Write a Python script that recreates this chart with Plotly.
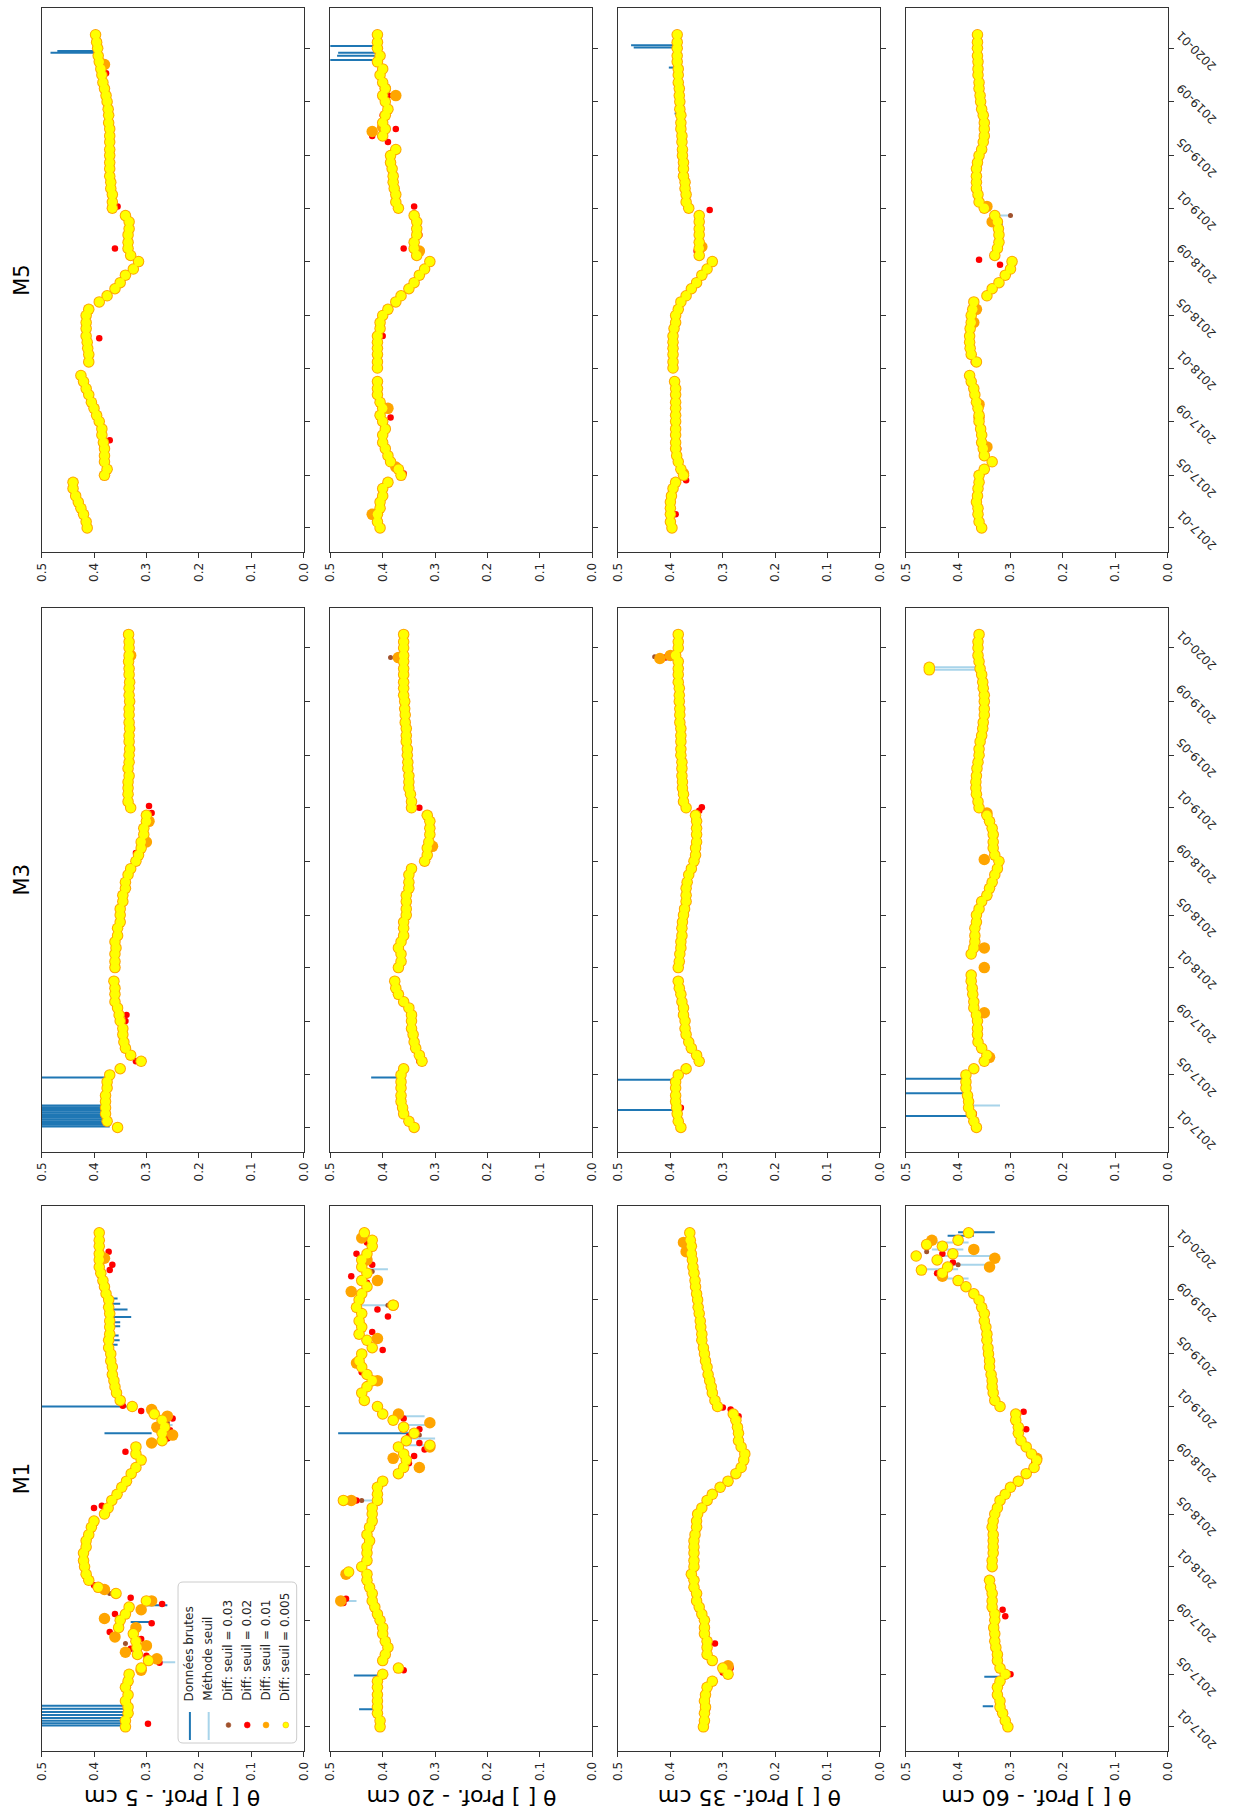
import plotly.graph_objects as go

W, H = 1235, 1814

# ---------------------------------------------------------------- labels / ticks
SITES = ["M5", "M3", "M1"]                 # rows, top to bottom
DEPTH_LABELS = ["θ [ ] Prof. - 5 cm", "θ [ ] Prof. - 20 cm",
                "θ [ ] Prof.- 35 cm", "θ [ ] Prof. - 60 cm"]
THETA_TICKS = [0.0, 0.1, 0.2, 0.3, 0.4, 0.5]
THETA_TICK_TEXT = ["0.0", "0.1", "0.2", "0.3", "0.4", "0.5"]
DATE_TICKS = ["2017-01-01", "2017-05-01", "2017-09-01", "2018-01-01", "2018-05-01",
              "2018-09-01", "2019-01-01", "2019-05-01", "2019-09-01", "2020-01-01"]
DATE_TICK_TEXT = ["2017-01", "2017-05", "2017-09", "2018-01", "2018-05",
                  "2018-09", "2019-01", "2019-05", "2019-09", "2020-01"]
LEGEND_LABELS = ["Données brutes", "Méthode seuil", "Diff: seuil = 0.03",
                 "Diff: seuil = 0.02", "Diff: seuil = 0.01", "Diff: seuil = 0.005"]

# sampling dates (1st and 15th of each month, 2017-01-01 .. 2020-02-01)
DATES = [f"{y}-{m:02d}-{d:02d}" for y in (2017, 2018, 2019, 2020)
         for m in range(1, 13) for d in (1, 15)][:75]

# ---------------------------------------------------------------- series (theta)
M1_05 = [0.34, 0.34, 0.335, 0.335, 0.34, 0.335, 0.34, 0.335,
         0.333, 0.31, 0.296, 0.317, 0.318, 0.32, 0.325, 0.353,
         0.35, 0.34, 0.333, 0.30, 0.358, 0.392, 0.41, 0.415,
         0.418, 0.42, 0.42, 0.415, 0.415, 0.41, 0.405, 0.40,
         0.38, 0.373, 0.366, 0.356, 0.347, 0.338, 0.329, 0.32,
         0.31, 0.32, 0.32, 0.27, 0.27, 0.265, 0.27, 0.285,
         0.327, 0.35, 0.357, 0.36, 0.362, 0.365, 0.365, 0.368,
         0.368, 0.372, 0.372, 0.37, 0.37, 0.37, 0.37, 0.372,
         0.372, 0.377, 0.38, 0.383, 0.387, 0.39, 0.39, 0.39,
         0.39, 0.39, 0.39]
M1_20 = [0.405, 0.405, 0.41, 0.41, 0.41, 0.41, 0.41, 0.41,
         0.40, 0.37, 0.40, 0.395, 0.39, 0.395, 0.40, 0.40,
         0.405, 0.41, 0.415, 0.42, 0.42, 0.425, 0.43, 0.43,
         0.44, 0.43, 0.43, 0.43, 0.425, 0.43, 0.425, 0.42,
         0.42, 0.42, 0.41, 0.41, 0.41, 0.40, 0.37, 0.36,
         0.355, 0.36, 0.37, 0.355, 0.34, 0.36, 0.38, 0.40,
         0.41, 0.435, 0.44, 0.43, 0.42, 0.43, 0.44, 0.445,
         0.44, 0.42, 0.43, 0.445, 0.44, 0.445, 0.44, 0.45,
         0.445, 0.44, 0.43, 0.44, 0.43, 0.44, 0.44, 0.43,
         0.42, 0.42, 0.435]
M1_35 = [0.337, 0.335, 0.335, 0.333, 0.335, 0.333, 0.33, 0.32,
         0.29, 0.30, 0.32, 0.33, 0.33, 0.33, 0.335, 0.335,
         0.335, 0.34, 0.345, 0.35, 0.35, 0.355, 0.355, 0.36,
         0.355, 0.355, 0.355, 0.355, 0.355, 0.353, 0.35, 0.35,
         0.348, 0.34, 0.33, 0.32, 0.305, 0.29, 0.275, 0.265,
         0.26, 0.258, 0.265, 0.27, 0.27, 0.272, 0.275, 0.28,
         0.31, 0.315, 0.32, 0.322, 0.325, 0.328, 0.33, 0.333,
         0.335, 0.337, 0.34, 0.34, 0.342, 0.343, 0.345, 0.347,
         0.348, 0.35, 0.352, 0.353, 0.355, 0.357, 0.358, 0.36,
         0.36, 0.362, 0.363]
M1_60 = [0.305, 0.31, 0.315, 0.32, 0.32, 0.325, 0.325, 0.32,
         0.31, 0.32, 0.325, 0.325, 0.328, 0.33, 0.33, 0.332,
         0.33, 0.33, 0.335, 0.335, 0.335, 0.338, 0.34, None,
         0.335, 0.335, 0.333, 0.333, 0.333, 0.333, 0.335, 0.333,
         0.33, 0.325, 0.32, 0.31, 0.30, 0.285, 0.27, 0.255,
         0.25, 0.26, 0.27, 0.28, 0.285, 0.285, 0.29, 0.29,
         0.32, 0.33, 0.333, 0.335, 0.335, 0.337, 0.34, 0.34,
         0.342, 0.343, 0.345, 0.345, 0.347, 0.35, 0.35, 0.355,
         0.36, 0.37, 0.385, 0.40, 0.43, 0.42, 0.44, 0.41,
         0.43, 0.40, 0.38]
M3_05 = [0.355, 0.375, 0.378, 0.378, 0.378, 0.378, 0.375, 0.375,
         0.37, 0.35, 0.31, 0.33, 0.34, 0.343, 0.345, 0.345,
         0.35, 0.352, 0.355, 0.36, 0.36, 0.36, 0.362, None,
         0.36, 0.36, 0.36, 0.358, 0.36, 0.355, 0.355, 0.35,
         0.35, 0.35, 0.345, 0.345, 0.34, 0.34, 0.335, 0.33,
         0.32, 0.315, 0.31, 0.31, 0.305, 0.305, 0.30, 0.30,
         0.33, 0.335, 0.335, 0.335, 0.335, 0.333, 0.335, 0.333,
         0.333, 0.332, 0.333, 0.333, 0.332, 0.333, 0.333, 0.333,
         0.332, 0.333, 0.333, 0.332, 0.333, 0.333, 0.334, 0.333,
         0.333, 0.333, 0.334]
M3_20 = [0.34, 0.35, 0.36, 0.362, 0.365, 0.365, 0.365, 0.365,
         0.365, 0.36, 0.325, 0.33, 0.337, 0.34, 0.342, 0.345,
         0.345, 0.345, 0.35, 0.36, 0.37, 0.375, 0.377, None,
         0.37, 0.365, 0.365, 0.37, 0.365, 0.36, 0.36, 0.36,
         0.355, 0.355, 0.355, 0.355, 0.35, 0.35, 0.35, 0.345,
         0.32, 0.315, 0.315, 0.312, 0.31, 0.31, 0.31, 0.315,
         0.345, 0.345, 0.347, 0.35, 0.35, 0.35, 0.352, 0.352,
         0.353, 0.353, 0.355, 0.355, 0.355, 0.357, 0.357, 0.358,
         0.358, 0.36, 0.36, 0.36, 0.36, 0.36, 0.36, 0.36,
         0.36, 0.36, 0.36]
M3_35 = [0.38, 0.385, 0.387, 0.388, 0.39, 0.39, 0.39, 0.39,
         0.385, 0.37, 0.345, 0.35, 0.36, 0.365, 0.37, 0.372,
         0.372, 0.375, 0.375, 0.378, 0.38, 0.383, 0.385, None,
         0.385, 0.383, 0.382, 0.38, 0.38, 0.378, 0.378, 0.377,
         0.375, 0.373, 0.37, 0.37, 0.37, 0.368, 0.365, 0.36,
         0.355, 0.352, 0.352, 0.35, 0.35, 0.35, 0.35, 0.352,
         0.37, 0.375, 0.375, 0.377, 0.377, 0.378, 0.378, 0.378,
         0.38, 0.38, 0.38, 0.38, 0.38, 0.382, 0.382, 0.382,
         0.383, 0.383, 0.383, 0.385, 0.385, 0.385, 0.385, 0.39,
         0.385, 0.385, 0.385]
M3_60 = [0.365, 0.37, 0.375, 0.38, 0.38, 0.382, 0.385, 0.385,
         0.385, 0.37, 0.35, 0.345, 0.355, 0.362, 0.363, 0.363,
         0.363, 0.365, 0.37, 0.37, 0.372, 0.373, 0.375, 0.375,
         None, None, 0.375, 0.37, 0.368, 0.368, 0.368, 0.365,
         0.365, 0.36, 0.355, 0.345, 0.34, 0.335, 0.33, 0.325,
         0.322, 0.33, 0.333, 0.333, 0.333, 0.335, 0.34, 0.345,
         0.36, 0.362, 0.365, 0.366, 0.366, 0.365, 0.364, 0.362,
         0.36, 0.36, 0.358, 0.355, 0.353, 0.352, 0.35, 0.35,
         0.35, 0.35, 0.352, 0.353, 0.355, 0.358, 0.36, 0.362,
         0.362, 0.362, 0.36]
M5_05 = [0.413, 0.415, 0.42, 0.425, 0.43, 0.435, 0.44, 0.44,
         0.38, 0.375, 0.38, 0.38, 0.38, 0.382, 0.385, 0.385,
         0.39, 0.395, 0.40, 0.405, 0.41, 0.415, 0.42, 0.425,
         None, 0.41, 0.41, 0.412, 0.413, 0.415, 0.415, 0.415,
         0.415, 0.41, 0.39, 0.375, 0.36, 0.35, 0.34, 0.325,
         0.315, 0.33, 0.335, 0.335, 0.335, 0.333, 0.333, 0.34,
         0.365, 0.365, 0.365, 0.368, 0.368, 0.37, 0.37, 0.37,
         0.37, 0.37, 0.37, 0.37, 0.37, 0.372, 0.372, 0.373,
         0.375, 0.377, 0.38, 0.383, 0.385, 0.387, 0.39, 0.392,
         0.393, 0.395, 0.397]
M5_20 = [0.405, 0.41, 0.41, 0.405, 0.405, 0.40, 0.40, 0.39,
         0.365, 0.37, 0.385, 0.39, 0.395, 0.40, 0.40, 0.395,
         0.40, 0.405, 0.40, 0.405, 0.41, 0.41, 0.41, None,
         0.41, 0.41, 0.41, 0.41, 0.41, 0.41, 0.405, 0.405,
         0.40, 0.39, 0.375, 0.365, 0.35, 0.34, 0.33, 0.32,
         0.31, 0.335, 0.34, 0.34, 0.335, 0.335, 0.335, 0.34,
         0.37, 0.375, 0.375, 0.378, 0.38, 0.38, 0.382, 0.385,
         0.385, 0.375, None, 0.40, 0.395, 0.40, 0.395, 0.39,
         0.395, 0.40, 0.395, 0.40, 0.405, 0.40, 0.41, 0.405,
         0.41, 0.41, 0.41]
M5_35 = [0.397, 0.40, 0.40, 0.40, 0.40, 0.398, 0.395, 0.39,
         0.375, 0.38, 0.385, 0.388, 0.39, 0.39, 0.39, 0.39,
         0.39, 0.39, 0.39, 0.39, 0.39, 0.39, 0.392, None,
         0.395, 0.395, 0.395, 0.395, 0.395, 0.395, 0.393, 0.39,
         0.39, 0.385, 0.38, 0.37, 0.36, 0.35, 0.34, 0.33,
         0.32, 0.345, 0.345, 0.345, 0.345, 0.345, 0.345, 0.345,
         0.365, 0.37, 0.37, 0.372, 0.372, 0.375, 0.375, 0.375,
         0.377, 0.377, 0.378, 0.378, 0.38, 0.38, 0.38, 0.382,
         0.382, 0.383, 0.383, 0.385, 0.385, 0.385, 0.387, 0.387,
         0.387, 0.387, 0.387]
M5_60 = [0.355, 0.36, 0.362, 0.362, 0.365, 0.363, 0.362, 0.36,
         0.36, 0.35, 0.335, 0.35, 0.352, 0.355, 0.355, 0.357,
         0.36, 0.36, 0.362, 0.365, 0.368, 0.37, 0.375, 0.378,
         None, 0.365, 0.375, 0.377, 0.378, 0.378, 0.377, 0.375,
         0.375, 0.372, 0.37, 0.345, 0.335, 0.322, 0.31, 0.30,
         0.297, 0.33, 0.325, 0.322, 0.322, 0.323, 0.325, 0.33,
         0.35, 0.36, 0.362, 0.365, 0.365, 0.365, 0.365, 0.363,
         0.36, 0.355, 0.352, 0.35, 0.35, 0.35, 0.352, 0.355,
         0.357, 0.358, 0.36, 0.36, 0.362, 0.362, 0.362, 0.363,
         0.363, 0.363, 0.363]

# ---------------------------------------------------------------- raw spikes (date, from, to)
M1_05_RAW = [("2017-01-04", 0.34, 0.6), ("2017-01-09", 0.34, 0.6), ("2017-01-15", 0.34, 0.6),
             ("2017-01-21", 0.34, 0.6), ("2017-01-28", 0.34, 0.6), ("2017-02-04", 0.34, 0.6),
             ("2017-02-11", 0.34, 0.6), ("2017-02-18", 0.34, 0.6), ("2017-08-28", 0.33, 0.29),
             ("2017-10-05", 0.30, 0.26), ("2018-11-01", 0.29, 0.38), ("2019-01-01", 0.33, 0.6),
             ("2019-05-22", 0.37, 0.355), ("2019-06-01", 0.37, 0.351), ("2019-06-12", 0.37, 0.353),
             ("2019-07-03", 0.37, 0.35), ("2019-07-12", 0.37, 0.35), ("2019-07-24", 0.37, 0.329),
             ("2019-08-10", 0.37, 0.336), ("2019-08-23", 0.37, 0.35), ("2019-09-04", 0.37, 0.355)]
M1_20_RAW = [("2017-02-10", 0.41, 0.445), ("2017-04-28", 0.41, 0.455), ("2018-11-01", 0.34, 0.485)]
M1_35_RAW = []
M1_60_RAW = [("2017-02-17", 0.333, 0.353), ("2017-04-25", 0.32, 0.35),
             ("2020-01-25", 0.42, 0.37), ("2020-02-02", 0.40, 0.33)]
M3_05_RAW = [("2017-01-03", 0.37, 0.6), ("2017-01-07", 0.375, 0.6), ("2017-01-11", 0.375, 0.6),
             ("2017-01-15", 0.375, 0.6), ("2017-01-19", 0.375, 0.6), ("2017-01-23", 0.375, 0.6),
             ("2017-01-27", 0.375, 0.6), ("2017-01-31", 0.378, 0.6), ("2017-02-04", 0.378, 0.6),
             ("2017-02-08", 0.378, 0.6), ("2017-02-12", 0.378, 0.6), ("2017-02-16", 0.378, 0.6),
             ("2017-02-20", 0.378, 0.6), ("2017-04-25", 0.375, 0.6)]
M3_20_RAW = [("2017-04-25", 0.368, 0.422)]
M3_35_RAW = [("2017-02-10", 0.387, 0.6), ("2017-04-20", 0.39, 0.6)]
M3_60_RAW = [("2017-01-27", 0.37, 0.6), ("2017-03-20", 0.382, 0.6), ("2017-04-22", 0.385, 0.6)]
M5_05_RAW = [("2019-12-22", 0.39, 0.483), ("2019-12-26", 0.39, 0.47)]
M5_20_RAW = [("2019-12-05", 0.41, 0.6), ("2019-12-15", 0.41, 0.487),
             ("2019-12-22", 0.41, 0.485), ("2020-01-06", 0.41, 0.6)]
M5_35_RAW = [("2019-08-05", 0.383, 0.392), ("2019-11-18", 0.385, 0.403),
             ("2020-01-03", 0.387, 0.47), ("2020-01-08", 0.387, 0.475)]
M5_60_RAW = [("2018-11-25", 0.325, 0.315)]

# ---------------------------------------------------------------- "Méthode seuil" segments
M1_05_SEUIL = [("2017-05-28", 0.29, 0.245), ("2018-11-20", 0.27, 0.25)]
M1_20_SEUIL = [("2017-10-15", 0.45, 0.48), ("2018-06-01", 0.42, 0.475), ("2018-10-05", 0.37, 0.31),
               ("2018-10-20", 0.36, 0.30), ("2018-11-20", 0.37, 0.30), ("2018-12-10", 0.38, 0.32),
               ("2019-08-20", 0.44, 0.38), ("2019-11-10", 0.44, 0.39)]
M1_35_SEUIL = []
M1_60_SEUIL = [("2019-10-20", 0.38, 0.44), ("2019-11-10", 0.40, 0.46), ("2019-11-20", 0.42, 0.34),
               ("2019-12-10", 0.43, 0.33), ("2019-12-25", 0.45, 0.39), ("2020-01-10", 0.46, 0.38)]
M3_05_SEUIL = []
M3_20_SEUIL = []
M3_35_SEUIL = [("2019-12-05", 0.385, 0.42), ("2019-12-12", 0.385, 0.43)]
M3_60_SEUIL = [("2017-02-20", 0.375, 0.32), ("2019-11-12", 0.362, 0.455), ("2019-11-18", 0.362, 0.455)]
M5_05_SEUIL = []
M5_20_SEUIL = []
M5_35_SEUIL = []
M5_60_SEUIL = [("2018-12-15", 0.32, 0.30)]

# ---------------------------------------------------------------- diff-method points (date, theta)
M1_05_BROWN = [("2017-07-10", 0.34), ("2017-11-01", 0.37), ("2018-11-25", 0.26)]
M1_05_RED = [("2017-01-08", 0.297), ("2017-05-27", 0.275), ("2017-06-12", 0.30), ("2017-06-28", 0.33),
             ("2017-07-20", 0.31), ("2017-08-05", 0.37), ("2017-08-25", 0.29), ("2017-09-15", 0.36),
             ("2017-10-08", 0.27), ("2017-10-22", 0.33), ("2017-11-05", 0.36), ("2017-11-20", 0.40),
             ("2018-05-15", 0.40), ("2018-05-20", 0.385), ("2018-09-20", 0.34), ("2018-10-20", 0.26),
             ("2018-11-08", 0.255), ("2018-12-05", 0.25), ("2018-12-22", 0.31), ("2019-01-03", 0.345),
             ("2019-11-08", 0.37), ("2019-11-20", 0.365), ("2019-12-20", 0.372)]
M1_05_ORANGE = [("2017-05-10", 0.31), ("2017-06-05", 0.28), ("2017-06-20", 0.34), ("2017-07-05", 0.30),
                ("2017-07-25", 0.36), ("2017-08-15", 0.32), ("2017-09-05", 0.38), ("2017-09-25", 0.31),
                ("2017-10-15", 0.29), ("2017-11-10", 0.38), ("2018-10-10", 0.29), ("2018-10-28", 0.25),
                ("2018-11-15", 0.28), ("2018-12-10", 0.26), ("2018-12-25", 0.29), ("2019-12-05", 0.38)]
M1_05_YELLOW = []
M1_20_BROWN = [("2017-10-12", 0.48), ("2018-06-01", 0.44), ("2018-10-28", 0.33), ("2019-08-20", 0.39),
               ("2019-11-05", 0.42)]
M1_20_RED = [("2017-05-10", 0.36), ("2017-10-10", 0.475), ("2017-10-20", 0.47), ("2018-06-01", 0.45),
             ("2018-08-10", 0.36), ("2018-08-25", 0.35), ("2018-09-10", 0.34), ("2018-09-25", 0.32),
             ("2018-10-10", 0.33), ("2018-10-25", 0.35), ("2018-11-10", 0.33), ("2018-12-05", 0.36),
             ("2019-02-20", 0.43), ("2019-03-20", 0.44), ("2019-05-10", 0.40), ("2019-06-20", 0.42),
             ("2019-07-25", 0.39), ("2019-08-10", 0.41), ("2019-10-10", 0.43), ("2019-10-25", 0.46),
             ("2019-11-20", 0.42), ("2019-12-15", 0.45), ("2020-01-10", 0.43)]
M1_20_ORANGE = [("2017-10-15", 0.48), ("2017-12-15", 0.47), ("2018-06-01", 0.46), ("2018-08-15", 0.33),
                ("2018-09-05", 0.38), ("2018-10-01", 0.31), ("2018-11-25", 0.31), ("2018-12-15", 0.37),
                ("2019-03-01", 0.41), ("2019-04-10", 0.45), ("2019-06-05", 0.41), ("2019-08-20", 0.38),
                ("2019-09-20", 0.46), ("2019-10-15", 0.41), ("2019-12-01", 0.43), ("2020-01-20", 0.44)]
M1_20_YELLOW = [("2018-06-01", 0.475), ("2018-10-05", 0.31), ("2019-08-20", 0.38), ("2017-12-20", 0.465)]
M1_35_BROWN = []
M1_35_RED = [("2017-02-10", 0.33), ("2017-05-05", 0.30), ("2017-05-15", 0.285), ("2017-07-10", 0.315),
             ("2018-12-10", 0.27), ("2018-12-25", 0.285), ("2018-12-30", 0.30)]
M1_35_ORANGE = [("2017-05-20", 0.29), ("2019-12-20", 0.37), ("2020-01-10", 0.375)]
M1_35_YELLOW = []
M1_60_BROWN = [("2019-11-20", 0.40), ("2019-12-20", 0.46)]
M1_60_RED = [("2017-05-01", 0.30), ("2017-09-10", 0.31), ("2017-09-25", 0.315), ("2018-08-10", 0.26),
             ("2018-08-25", 0.255), ("2018-11-10", 0.27), ("2018-12-20", 0.275), ("2019-11-01", 0.44),
             ("2019-11-25", 0.41), ("2019-12-15", 0.43)]
M1_60_ORANGE = [("2018-09-05", 0.25), ("2019-10-25", 0.43), ("2019-11-15", 0.34), ("2019-12-05", 0.33),
                ("2019-12-25", 0.37), ("2020-01-15", 0.45)]
M1_60_YELLOW = [("2019-11-08", 0.47), ("2019-12-10", 0.48), ("2020-01-05", 0.46)]
M3_05_BROWN = []
M3_05_RED = [("2017-06-01", 0.32), ("2017-09-01", 0.34), ("2017-09-15", 0.338), ("2018-09-20", 0.32),
             ("2018-12-20", 0.29), ("2019-01-05", 0.295)]
M3_05_ORANGE = [("2018-10-15", 0.30), ("2018-12-01", 0.295), ("2019-12-15", 0.33)]
M3_05_YELLOW = []
M3_20_BROWN = [("2019-12-10", 0.385)]
M3_20_RED = [("2017-06-01", 0.33), ("2019-01-01", 0.33)]
M3_20_ORANGE = [("2019-12-10", 0.37), ("2018-10-05", 0.305)]
M3_20_YELLOW = []
M3_35_BROWN = [("2019-12-12", 0.43)]
M3_35_RED = [("2017-02-15", 0.38), ("2017-05-10", 0.37), ("2017-06-01", 0.345), ("2018-12-25", 0.345),
             ("2019-01-02", 0.34), ("2019-12-10", 0.41)]
M3_35_ORANGE = [("2019-12-08", 0.42), ("2019-12-15", 0.40)]
M3_35_YELLOW = []
M3_60_BROWN = []
M3_60_RED = [("2017-02-01", 0.37)]
M3_60_ORANGE = [("2017-06-10", 0.34), ("2017-09-20", 0.35), ("2018-01-01", 0.35), ("2018-02-15", 0.35),
                ("2018-09-05", 0.35), ("2018-12-20", 0.345)]
M3_60_YELLOW = [("2019-11-12", 0.455), ("2019-11-18", 0.455)]
M5_05_BROWN = []
M5_05_RED = [("2017-07-20", 0.37), ("2018-03-10", 0.39), ("2018-10-01", 0.36), ("2019-01-05", 0.355),
             ("2019-11-05", 0.377)]
M5_05_ORANGE = [("2019-11-25", 0.38)]
M5_05_YELLOW = []
M5_20_BROWN = []
M5_20_RED = [("2017-05-05", 0.36), ("2017-09-10", 0.385), ("2018-03-15", 0.40), ("2018-10-01", 0.36),
             ("2018-11-01", 0.33), ("2019-01-05", 0.34), ("2019-06-01", 0.39), ("2019-06-15", 0.42),
             ("2019-07-01", 0.375), ("2019-08-01", 0.40), ("2019-09-15", 0.389), ("2019-11-10", 0.40)]
M5_20_ORANGE = [("2017-02-01", 0.42), ("2017-05-20", 0.375), ("2017-10-01", 0.39), ("2018-09-25", 0.33),
                ("2019-06-25", 0.42), ("2019-07-05", 0.40), ("2019-09-15", 0.375), ("2019-10-01", 0.395)]
M5_20_YELLOW = []
M5_35_BROWN = []
M5_35_RED = [("2017-02-01", 0.39), ("2017-03-05", 0.40), ("2017-04-20", 0.37), ("2017-07-01", 0.385),
             ("2018-09-25", 0.35), ("2018-12-28", 0.325)]
M5_35_ORANGE = [("2017-05-05", 0.375), ("2018-10-05", 0.34)]
M5_35_YELLOW = []
M5_60_BROWN = [("2018-12-15", 0.30)]
M5_60_RED = [("2018-01-15", 0.37), ("2018-08-25", 0.32), ("2018-09-05", 0.36)]
M5_60_ORANGE = [("2017-07-05", 0.345), ("2017-09-10", 0.36), ("2017-10-10", 0.36), ("2018-04-15", 0.37),
                ("2018-05-15", 0.365), ("2018-12-01", 0.335), ("2019-01-05", 0.345)]
M5_60_YELLOW = []

PANELS = {
    ("M1", 0): (M1_05, M1_05_RAW, M1_05_SEUIL, M1_05_BROWN, M1_05_RED, M1_05_ORANGE, M1_05_YELLOW),
    ("M1", 1): (M1_20, M1_20_RAW, M1_20_SEUIL, M1_20_BROWN, M1_20_RED, M1_20_ORANGE, M1_20_YELLOW),
    ("M1", 2): (M1_35, M1_35_RAW, M1_35_SEUIL, M1_35_BROWN, M1_35_RED, M1_35_ORANGE, M1_35_YELLOW),
    ("M1", 3): (M1_60, M1_60_RAW, M1_60_SEUIL, M1_60_BROWN, M1_60_RED, M1_60_ORANGE, M1_60_YELLOW),
    ("M3", 0): (M3_05, M3_05_RAW, M3_05_SEUIL, M3_05_BROWN, M3_05_RED, M3_05_ORANGE, M3_05_YELLOW),
    ("M3", 1): (M3_20, M3_20_RAW, M3_20_SEUIL, M3_20_BROWN, M3_20_RED, M3_20_ORANGE, M3_20_YELLOW),
    ("M3", 2): (M3_35, M3_35_RAW, M3_35_SEUIL, M3_35_BROWN, M3_35_RED, M3_35_ORANGE, M3_35_YELLOW),
    ("M3", 3): (M3_60, M3_60_RAW, M3_60_SEUIL, M3_60_BROWN, M3_60_RED, M3_60_ORANGE, M3_60_YELLOW),
    ("M5", 0): (M5_05, M5_05_RAW, M5_05_SEUIL, M5_05_BROWN, M5_05_RED, M5_05_ORANGE, M5_05_YELLOW),
    ("M5", 1): (M5_20, M5_20_RAW, M5_20_SEUIL, M5_20_BROWN, M5_20_RED, M5_20_ORANGE, M5_20_YELLOW),
    ("M5", 2): (M5_35, M5_35_RAW, M5_35_SEUIL, M5_35_BROWN, M5_35_RED, M5_35_ORANGE, M5_35_YELLOW),
    ("M5", 3): (M5_60, M5_60_RAW, M5_60_SEUIL, M5_60_BROWN, M5_60_RED, M5_60_ORANGE, M5_60_YELLOW),
}

# ---------------------------------------------------------------- styling / geometry
C_RAW, C_SEUIL = "#1f77b4", "#a8d4ea"
C_BROWN, C_RED, C_ORANGE, C_YELLOW = "#a0522d", "#ff0000", "#ffa500", "#ffff00"
FONT = "DejaVu Sans"
COL_X = [(35, 300), (327, 592), (618, 883), (909, 1174)]
ROW_Y = [(8, 552), (607.7, 1151.5), (1206, 1751)]
DATE_RANGE = ["2016-11-07", "2020-04-02"]


def fx(px):
    return px / W


def fy(py):
    return 1 - py / H


def segs(lst):
    xs, ys = [], []
    for d, a, b in lst:
        xs += [a, b, None]
        ys += [d, d, None]
    return xs, ys


fig = go.Figure()
layout = dict(width=W, height=H, margin=dict(l=0, r=0, t=0, b=0),
              paper_bgcolor="white", plot_bgcolor="white", showlegend=False,
              font=dict(family=FONT, size=12, color="#262626"))
annotations, shapes = [], []

for r, site in enumerate(SITES):
    for c in range(4):
        n = r * 4 + c + 1
        xr, yr = f"x{n}", f"y{n}"
        base, raw, seuil, brown, red, orange, yellow = PANELS[(site, c)]
        pts = [(d, v) for d, v in zip(DATES, base) if v is not None]

        rx, ry = segs(raw)
        fig.add_trace(go.Scatter(x=rx, y=ry, mode="lines", line=dict(color=C_RAW, width=2),
                                 xaxis=xr, yaxis=yr, hoverinfo="skip"))
        sx, sy = segs(seuil)
        fig.add_trace(go.Scatter(x=sx, y=sy, mode="lines", line=dict(color=C_SEUIL, width=2),
                                 xaxis=xr, yaxis=yr, hoverinfo="skip"))
        for lst, col, size in ((brown, C_BROWN, 5), (red, C_RED, 6.5)):
            fig.add_trace(go.Scatter(x=[v for _, v in lst], y=[d for d, _ in lst], mode="markers",
                                     marker=dict(color=col, size=size, line=dict(width=0)),
                                     xaxis=xr, yaxis=yr, hoverinfo="skip"))
        allp = pts + yellow
        fig.add_trace(go.Scatter(x=[v for _, v in orange] + [v for _, v in allp],
                                 y=[d for d, _ in orange] + [d for d, _ in allp], mode="markers",
                                 marker=dict(color=C_ORANGE, size=11.5, line=dict(width=0)),
                                 xaxis=xr, yaxis=yr, hoverinfo="skip"))
        fig.add_trace(go.Scatter(x=[v for _, v in allp], y=[d for d, _ in allp], mode="markers",
                                 marker=dict(color=C_YELLOW, size=9.5, line=dict(width=0)),
                                 xaxis=xr, yaxis=yr, hoverinfo="skip"))

        sfx = "" if n == 1 else str(n)
        layout["xaxis" + sfx] = dict(
            domain=[fx(COL_X[c][0]), fx(COL_X[c][1])], anchor=yr, range=[0.5, 0.0],
            tickvals=THETA_TICKS, ticktext=THETA_TICK_TEXT, tickangle=-90,
            ticks="outside", ticklen=5, tickwidth=1, tickcolor="#333",
            showline=True, mirror=True, linecolor="#333", linewidth=1,
            showgrid=False, zeroline=False, tickfont=dict(size=12, family=FONT, color="#262626"))
        layout["yaxis" + sfx] = dict(
            domain=[fy(ROW_Y[r][1]), fy(ROW_Y[r][0])], anchor=xr, type="date", range=DATE_RANGE,
            tickvals=DATE_TICKS, showticklabels=False, side="right",
            ticks="outside", ticklen=5, tickwidth=1, tickcolor="#333",
            showline=True, mirror=True, linecolor="#333", linewidth=1,
            showgrid=False, zeroline=False)

        if c == 3:
            for dv, txt in zip(DATE_TICKS, DATE_TICK_TEXT):
                annotations.append(dict(text=txt, xref="paper", yref=yr, x=fx(1203), y=dv,
                                        yshift=-2, textangle=-135, showarrow=False,
                                        xanchor="center", yanchor="middle",
                                        font=dict(size=12, family=FONT, color="#262626")))
    # row title
    annotations.append(dict(text=site, xref="paper", yref="paper", x=fx(15),
                            y=fy((ROW_Y[r][0] + ROW_Y[r][1]) / 2), textangle=-90, showarrow=False,
                            xanchor="center", yanchor="middle", font=dict(size=21, family=FONT, color="black")))

for c, lab in enumerate(DEPTH_LABELS):
    annotations.append(dict(text=lab, xref="paper", yref="paper", x=fx((COL_X[c][0] + COL_X[c][1]) / 2),
                            y=fy(1798), textangle=180, showarrow=False, xanchor="center", yanchor="middle",
                            font=dict(size=22, family=FONT, color="black")))

# ---------------------------------------------------------------- manual (rotated) legend
bx0, bx1, by0, by1, rad = 173, 293, 1582, 1743, 5
path = (f"M {fx(bx0 + rad)},{fy(by0)} L {fx(bx1 - rad)},{fy(by0)} Q {fx(bx1)},{fy(by0)} {fx(bx1)},{fy(by0 + rad)} "
        f"L {fx(bx1)},{fy(by1 - rad)} Q {fx(bx1)},{fy(by1)} {fx(bx1 - rad)},{fy(by1)} "
        f"L {fx(bx0 + rad)},{fy(by1)} Q {fx(bx0)},{fy(by1)} {fx(bx0)},{fy(by1 - rad)} "
        f"L {fx(bx0)},{fy(by0 + rad)} Q {fx(bx0)},{fy(by0)} {fx(bx0 + rad)},{fy(by0)} Z")
shapes.append(dict(type="path", path=path, xref="paper", yref="paper", layer="above",
                   line=dict(color="#cccccc", width=1), fillcolor="rgba(255,255,255,0.85)"))
LEG_X = [185, 204, 224, 243, 262, 282]
for xpx, col in zip(LEG_X[:2], (C_RAW, C_SEUIL)):
    shapes.append(dict(type="line", xref="paper", yref="paper", layer="above",
                       x0=fx(xpx), x1=fx(xpx), y0=fy(1712), y1=fy(1740), line=dict(color=col, width=2)))
for xpx, col, rr in zip(LEG_X[2:], (C_BROWN, C_RED, C_ORANGE, C_YELLOW), (2.5, 3, 3, 3)):
    shapes.append(dict(type="circle", xref="paper", yref="paper", layer="above",
                       x0=fx(xpx - rr), x1=fx(xpx + rr), y0=fy(1725 + rr), y1=fy(1725 - rr),
                       fillcolor=col, line=dict(color=col if col != C_YELLOW else C_ORANGE, width=0.5)))
for xpx, lab in zip(LEG_X, LEGEND_LABELS):
    annotations.append(dict(text=lab, xref="paper", yref="paper", x=fx(xpx - 1), y=fy(1703),
                            textangle=-90, showarrow=False, xanchor="center", yanchor="bottom",
                            font=dict(size=12, family=FONT, color="#262626")))

layout["annotations"] = annotations
layout["shapes"] = shapes
fig.update_layout(**layout)
fig.write_html("out.html", config={"displayModeBar": False},
               post_script="document.body.style.margin='0';")
